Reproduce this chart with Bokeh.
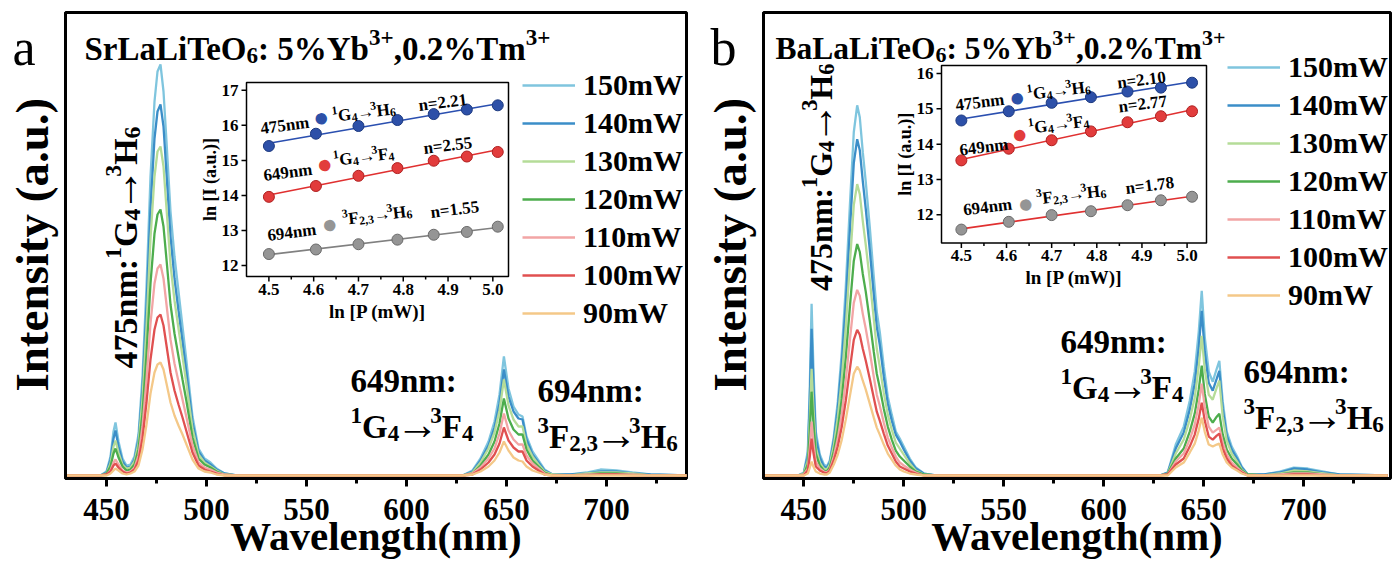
import numpy as np
from math import pi, cos, sin
from bokeh.plotting import figure
from bokeh.models import (Range1d, Label, Legend, LegendItem, FixedTicker,
                          SingleIntervalTicker)
from bokeh.core.properties import value
from bokeh.layouts import row
from bokeh.embed import file_html
from bokeh.resources import INLINE

FONT = "Liberation Serif"

# ---------------- data ----------------
powers = ["150mW", "140mW", "130mW", "120mW", "110mW", "100mW", "90mW"]
colors = ["#7fc5de", "#3b8ec8", "#b5dc98", "#4dad4d", "#f2a5a5", "#e05050", "#f4c888"]

wl_a = [430, 447, 450, 452, 453.5, 454.5, 456, 458, 460, 462, 464, 466, 468, 470, 472, 474, 475.5, 477,
        478.5, 480, 482, 484, 486, 488, 490, 493, 496, 499, 502, 505, 509, 515, 600, 628, 633, 637, 641,
        644, 646.5, 648.7, 651, 653.5, 656, 658, 660, 663, 666, 669, 673, 682, 690, 697, 705, 713, 722, 742]
a_150 = [1, 1, 5, 20, 45, 54, 35, 18, 11, 12, 20, 42, 100, 190, 300, 375, 405, 412, 385, 335,
         265, 220, 185, 150, 115, 60, 28, 18, 14, 8, 3, 1, 1, 1, 6, 18, 35, 55, 82, 120,
         88, 70, 62, 60, 40, 25, 16, 7, 2, 2, 4, 7, 6, 4, 2, 1]
a_140 = [1, 1, 4, 17, 38, 46, 30, 15, 9, 10, 17, 37, 88, 170, 268, 338, 365, 372, 350, 303,
         240, 198, 166, 135, 103, 54, 25, 16, 12, 7, 3, 1, 1, 1, 5, 16, 31, 49, 73, 107,
         80, 65, 58, 57, 37, 22, 14, 6, 2, 2, 3, 5, 5, 3, 2, 1]
a_130 = [1, 1, 3, 13, 30, 36, 24, 12, 8, 9, 15, 33, 78, 150, 238, 300, 325, 330, 310, 268,
         212, 176, 148, 120, 92, 48, 22, 14, 10, 6, 2, 1, 1, 1, 4, 14, 28, 44, 66, 97,
         71, 57, 50, 50, 32, 20, 12, 5, 2, 1, 3, 4, 4, 3, 1, 1]
a_120 = [1, 1, 3, 10, 23, 28, 19, 10, 6, 7, 12, 27, 63, 122, 193, 243, 262, 267, 250, 217,
         172, 143, 120, 97, 75, 39, 18, 12, 9, 5, 2, 1, 1, 1, 3, 11, 22, 35, 53, 78,
         58, 47, 42, 42, 27, 16, 10, 4, 1, 1, 2, 3, 3, 2, 1, 1]
a_110 = [1, 1, 2, 6, 14, 17, 12, 6, 4, 5, 9, 21, 50, 97, 153, 193, 208, 212, 198, 172,
         137, 113, 95, 77, 59, 31, 14, 9, 7, 4, 2, 1, 1, 1, 3, 9, 18, 28, 43, 63,
         46, 37, 32, 32, 21, 13, 8, 3, 1, 1, 2, 2, 2, 2, 1, 1]
a_100 = [1, 1, 2, 5, 11, 13, 9, 5, 3, 4, 7, 16, 38, 74, 117, 147, 159, 162, 151, 131,
         104, 86, 72, 59, 45, 24, 11, 7, 5, 3, 1, 1, 1, 1, 2, 7, 14, 22, 33, 49,
         36, 29, 25, 25, 16, 10, 6, 2, 1, 1, 1, 2, 2, 1, 1, 1]
a_90 = [1, 1, 1, 3, 6, 8, 6, 3, 2, 3, 5, 11, 27, 52, 83, 104, 112, 114, 107, 93,
        74, 61, 51, 42, 32, 17, 8, 5, 4, 2, 1, 1, 1, 1, 2, 5, 10, 16, 24, 35,
        26, 19, 16, 15, 10, 6, 4, 2, 1, 1, 1, 1, 1, 1, 1, 1]

wl_b = [430, 447, 450, 452, 453, 453.9, 454.8, 456, 458, 460, 461.5, 463, 465, 467, 469, 471, 473, 475,
        476.7, 478, 479.5, 481, 483, 485, 486.5, 488, 490, 492, 494, 496, 498, 500, 503, 506, 510, 516,
        600, 628, 632, 636, 640, 643, 645.5, 647.5, 649, 650.5, 652.5, 654.5, 656.5, 657.8, 659.5,
        661.5, 664, 666.7, 669, 672, 680, 688, 695, 702, 710, 718, 742]
b_150 = [1, 1, 4, 25, 90, 173, 110, 45, 22, 12, 10, 16, 40, 75, 125, 190, 270, 345, 372, 360,
         325, 295, 250, 200, 165, 145, 110, 80, 62, 45, 38, 30, 18, 9, 3, 1, 1, 1, 4, 32,
         50, 76, 105, 145, 186, 140, 105, 95, 108, 116, 75, 45, 30, 20, 10, 2, 2, 5, 9, 8, 5, 2, 1]
b_140 = [1, 1, 3, 21, 77, 148, 94, 39, 19, 10, 9, 14, 36, 68, 114, 173, 245, 314, 338, 327,
         296, 268, 227, 182, 150, 132, 100, 73, 56, 42, 35, 27, 16, 8, 3, 1, 1, 1, 4, 28,
         44, 67, 93, 129, 166, 125, 94, 86, 98, 106, 68, 41, 27, 18, 9, 2, 2, 4, 8, 7, 4, 2, 1]
b_130 = [1, 1, 3, 16, 57, 108, 69, 29, 14, 8, 7, 12, 31, 59, 98, 150, 212, 272, 293, 283,
         256, 232, 197, 158, 128, 110, 84, 62, 47, 34, 28, 22, 13, 6, 2, 1, 1, 1, 3, 23,
         37, 57, 79, 110, 141, 107, 82, 77, 89, 96, 60, 36, 23, 15, 7, 2, 1, 3, 6, 5, 3, 1, 1]
b_120 = [1, 1, 2, 12, 45, 85, 54, 23, 11, 6, 5, 9, 25, 47, 78, 119, 169, 216, 233, 225,
         203, 185, 156, 125, 103, 89, 68, 50, 37, 26, 20, 16, 10, 5, 2, 1, 1, 1, 3, 18,
         28, 45, 63, 87, 111, 83, 60, 54, 60, 63, 42, 27, 18, 12, 6, 2, 1, 2, 4, 4, 2, 1, 1]
b_110 = [1, 1, 2, 8, 29, 55, 35, 15, 8, 5, 4, 7, 20, 38, 63, 96, 136, 174, 187, 181,
         163, 148, 125, 100, 82, 71, 54, 39, 29, 20, 14, 11, 7, 4, 1, 1, 1, 1, 2, 15,
         23, 37, 52, 72, 93, 70, 50, 44, 47, 49, 34, 22, 14, 9, 5, 1, 1, 2, 3, 3, 2, 1, 1]
b_100 = [1, 1, 1, 6, 20, 38, 24, 10, 6, 4, 3, 6, 16, 30, 50, 76, 107, 137, 147, 142,
         128, 116, 98, 79, 65, 56, 43, 31, 23, 15, 10, 8, 5, 3, 1, 1, 1, 1, 2, 12,
         18, 30, 42, 58, 74, 56, 40, 37, 41, 43, 28, 18, 11, 7, 4, 1, 1, 1, 2, 2, 1, 1, 1]
b_90 = [1, 1, 1, 3, 9, 15, 10, 5, 3, 2, 2, 4, 12, 22, 37, 57, 80, 103, 110, 106,
        96, 87, 73, 59, 49, 42, 32, 23, 17, 11, 7, 5, 3, 2, 1, 1, 1, 1, 1, 9,
        14, 24, 33, 46, 59, 45, 32, 30, 32, 33, 22, 14, 9, 6, 3, 1, 1, 1, 1, 1, 1, 1, 1]

# inset data: ln P (mW) and ln I (a.u.)
lnP = [4.500, 4.605, 4.700, 4.787, 4.868, 4.942, 5.011]
a_475 = [15.41, 15.76, 15.98, 16.15, 16.32, 16.45, 16.57]
a_649 = [13.96, 14.27, 14.56, 14.78, 14.99, 15.11, 15.24]
a_694 = [12.33, 12.46, 12.61, 12.74, 12.88, 12.96, 13.11]
b_475 = [14.67, 14.93, 15.17, 15.33, 15.49, 15.60, 15.74]
b_649 = [13.54, 13.87, 14.11, 14.36, 14.62, 14.79, 14.93]
b_694 = [11.58, 11.80, 11.99, 12.10, 12.27, 12.41, 12.51]
slopes_a = ["n=2.21", "n=2.55", "n=1.55"]
slopes_b = ["n=2.10", "n=2.77", "n=1.78"]
inset_xticks = [4.5, 4.6, 4.7, 4.8, 4.9, 5.0]
inset_xlabels = ["4.5", "4.6", "4.7", "4.8", "4.9", "5.0"]
inset_a_yticks = [12, 13, 14, 15, 16, 17]
inset_b_yticks = [12, 13, 14, 15, 16]

# ---------------- text helpers ----------------
TW = {' ': 250, '!': 333, '%': 1000, '(': 333, ')': 333, '+': 570, ',': 250, '-': 333, '.': 250,
      ':': 333, '=': 570, '[': 333, ']': 333, '\u2192': 800, '\u25cf': 600}
for d in "0123456789":
    TW[d] = 500
TW.update({'A': 722, 'B': 667, 'C': 722, 'D': 722, 'E': 667, 'F': 611, 'G': 778, 'H': 778, 'I': 389,
           'L': 640, 'M': 944, 'O': 740, 'P': 611, 'S': 556, 'T': 667, 'W': 1000, 'Y': 722,
           'a': 500, 'b': 556, 'c': 444, 'd': 556, 'e': 444, 'g': 500, 'h': 556, 'i': 278, 'l': 278,
           'm': 833, 'n': 556, 'o': 500, 'r': 444, 's': 389, 't': 333, 'u': 556, 'v': 500, 'y': 500})


def tw(s, size):
    return sum(TW.get(c, 550) for c in s) * size / 1000.0


class Panel:
    """Positions are given in panel pixels (0 = left edge of the panel incl. label strip)."""

    def __init__(self, ox, Wf, H, fr, ft, fb, xr, yr):
        self.fl = ox + 3
        self.fr_px = ox + Wf - fr
        self.ft = ft
        self.fb_px = H - fb
        self.xr, self.yr = xr, yr
        self.p = figure(width=Wf, height=H, x_range=Range1d(*xr), y_range=Range1d(*yr),
                        output_backend="svg", toolbar_location=None, title=None,
                        min_border_left=3, min_border_right=fr, min_border_top=ft,
                        min_border_bottom=fb)

    def X(self, px):
        return self.xr[0] + (px - self.fl) * (self.xr[1] - self.xr[0]) / (self.fr_px - self.fl)

    def Y(self, py):
        return self.yr[0] + (self.fb_px - py) * (self.yr[1] - self.yr[0]) / (self.fb_px - self.ft)

    def label(self, px, py, text, size, angle=0.0, color="black", bold=True, align="left",
              baseline="alphabetic", font=FONT):
        self.p.add_layout(Label(x=self.X(px), y=self.Y(py), text=text, angle=angle,
                                text_font=font, text_font_size=f"{size:.1f}px",
                                text_font_style="bold" if bold else "normal",
                                text_color=color, text_align=align, text_baseline=baseline))

    def rich(self, px, py, segs, size, angle=0.0, color="black"):
        ca, sa = cos(angle), sin(angle)
        cx, cy = px, py
        for text, mode in segs:
            pre = 0.0
            if mode == "^":
                fs, r = size * 0.7, size * 0.34
            elif mode == "_":
                fs, r = size * 0.7, -size * 0.2
            elif mode == "A":
                fs, r, pre = size * 1.3, size * 0.06, -size * 0.1
            else:
                fs, r = size, 0.0
            cx += pre * ca
            cy -= pre * sa
            qx = cx - r * sa
            qy = cy - r * ca
            self.label(qx, qy, text, fs, angle=angle, color=color)
            w = tw(text, fs)
            cx += w * ca
            cy -= w * sa


def side_strip(width, letter, letter_pos, ylab_pos):
    s = figure(width=width, height=562, x_range=Range1d(0, width), y_range=Range1d(562, 0),
               output_backend="svg", toolbar_location=None, title=None,
               x_axis_location=None, y_axis_location=None,
               min_border_left=0, min_border_right=0, min_border_top=0, min_border_bottom=0)
    s.outline_line_color = None
    s.xgrid.visible = False
    s.ygrid.visible = False
    s.add_layout(Label(x=letter_pos[0], y=letter_pos[1], text=letter, text_font=FONT,
                       text_font_size="52px", text_color="black", text_align="left",
                       text_baseline="alphabetic"))
    s.add_layout(Label(x=ylab_pos[0], y=ylab_pos[1], text="Intensity (a.u.)", angle=pi / 2,
                       text_font=FONT, text_font_style="bold", text_font_size="47px",
                       text_color="black", text_align="center", text_baseline="middle"))
    return s


def build(ox, Wf, fr, ft, fb, xr, yr, wl, curves, ins, txt):
    P = Panel(ox, Wf, 562, fr, ft, fb, xr, yr)
    p = P.p
    p.xgrid.visible = False
    p.ygrid.visible = False
    p.background_fill_color = "white"
    p.border_fill_color = "white"
    p.outline_line_color = "black"
    p.outline_line_width = 3

    xa = p.xaxis[0]
    xa.ticker = SingleIntervalTicker(interval=50, num_minor_ticks=2)
    xa.axis_line_width = 3
    xa.major_tick_line_width = 3
    xa.minor_tick_line_width = 3
    xa.major_tick_in = 0
    xa.major_tick_out = 8
    xa.minor_tick_in = 0
    xa.minor_tick_out = 5
    xa.major_label_text_font = FONT
    xa.major_label_text_font_style = "bold"
    xa.major_label_text_font_size = "31px"
    xa.major_label_text_color = "black"
    xa.major_label_standoff = 12
    xa.axis_label = "Wavelength(nm)"
    xa.axis_label_text_font = FONT
    xa.axis_label_text_font_style = "bold"
    xa.axis_label_text_font_size = "41px"
    xa.axis_label_text_color = "black"
    xa.axis_label_standoff = -10

    ya = p.yaxis[0]
    ya.ticker = FixedTicker(ticks=[])
    ya.axis_line_width = 3
    ya.major_tick_out = 0
    ya.major_tick_in = 0
    ya.minor_tick_out = 0
    ya.minor_tick_in = 0
    ya.major_label_standoff = 0
    ya.axis_label = None

    # spectra
    rends = {}
    for name, col, vals in zip(powers, colors, curves):
        rends[name] = p.line(wl, vals, line_color=col, line_width=2.3)
    items = [LegendItem(label=name, renderers=[rends[name]]) for name in powers]
    leg = Legend(items=items, location=txt["legend_loc"], border_line_color=None,
                 background_fill_alpha=0, padding=0, margin=0, spacing=4,
                 glyph_width=53, glyph_height=30, label_height=30, label_standoff=8,
                 label_text_font=FONT, label_text_font_style="bold",
                 label_text_font_size="30px", label_text_color="black")
    p.add_layout(leg)

    # inset via extra ranges
    L, R, T, B = ins["box"]
    ix0, ix1 = ins["xr"]
    iy0, iy1 = ins["yr"]
    sxp = (ix1 - ix0) / (R - L)
    syp = (iy1 - iy0) / (B - T)
    p.extra_x_ranges = {"ix": Range1d(ix0 - (L - P.fl) * sxp, ix1 + (P.fr_px - R) * sxp)}
    p.extra_y_ranges = {"iy": Range1d(iy0 - (P.fb_px - B) * syp, iy1 + (T - P.ft) * syp)}
    kw = dict(x_range_name="ix", y_range_name="iy")
    p.quad(left=[ix0], right=[ix1], bottom=[iy0], top=[iy1], fill_color="white",
           line_color="black", line_width=1.5, **kw)
    xt = inset_xticks
    mt = [(a + b) / 2 for a, b in zip(xt[:-1], xt[1:])]
    p.segment(x0=xt, y0=[iy0] * len(xt), x1=xt, y1=[iy0 - 5 * syp] * len(xt),
              line_color="black", line_width=1.5, **kw)
    p.segment(x0=mt, y0=[iy0] * len(mt), x1=mt, y1=[iy0 - 3 * syp] * len(mt),
              line_color="black", line_width=1.5, **kw)
    yt = ins["yticks"]
    p.segment(x0=[ix0] * len(yt), y0=yt, x1=[ix0 - 5 * sxp] * len(yt), y1=yt,
              line_color="black", line_width=1.5, **kw)
    p.text(x=xt, y=[iy0 - 7 * syp] * len(xt), text=inset_xlabels, text_align="center",
           text_baseline="top", text_font=value(FONT), text_font_style="bold",
           text_font_size="17px", text_color="black", **kw)
    p.text(x=[ix0 - 8 * sxp] * len(yt), y=yt, text=[str(v) for v in yt], text_align="right",
           text_baseline="middle", text_font=value(FONT), text_font_style="bold",
           text_font_size="17px", text_color="black", **kw)
    P.label((L + R) / 2, B + 35, "ln [P (mW)]", 19, align="center")
    P.label(L - 37, (T + B) / 2, "ln [I (a.u.)]", 18, angle=pi / 2, align="center")
    for vals, fc, lc, fitc in ins["series"]:
        k, b0 = np.polyfit(lnP, vals, 1)
        xs = [lnP[0], lnP[-1]]
        p.line(xs, [k * v + b0 for v in xs], line_color=fitc, line_width=1.6, **kw)
        p.scatter(lnP, vals, size=11, fill_color=fc, line_color=lc, line_width=1, **kw)
    ang = 0.125
    for (wl_txt, pos_w, dot_col, pos_d, segs, pos_r, ntxt, pos_n) in ins["notes"]:
        P.label(pos_w[0], pos_w[1], wl_txt, 17, angle=ang)
        P.label(pos_d[0], pos_d[1], "\u25cf", 15, angle=ang, color=dot_col, align="center",
                baseline="middle", bold=False, font="DejaVu Sans")
        P.rich(pos_r[0], pos_r[1], segs, 17, angle=ang)
        P.label(pos_n[0], pos_n[1], ntxt, 17, angle=ang)

    P.rich(txt["title_pos"][0], txt["title_pos"][1], txt["title"], txt["title_size"])
    P.rich(txt["rot_pos"][0], txt["rot_pos"][1],
           [("475nm:", "n"), ("1", "^"), ("G", "n"), ("4", "_"), ("\u2192", "A"),
            ("3", "^"), ("H", "n"), ("6", "_")], txt["rot_size"], angle=pi / 2)
    P.label(txt["l649"][0], txt["l649"][1], "649nm:", 33)
    P.rich(txt["l649b"][0], txt["l649b"][1],
           [("1", "^"), ("G", "n"), ("4", "_"), ("\u2192", "A"), ("3", "^"), ("F", "n"), ("4", "_")], 33)
    P.label(txt["l694"][0], txt["l694"][1], "694nm:", 33)
    P.rich(txt["l694b"][0], txt["l694b"][1],
           [("3", "^"), ("F", "n"), ("2,3", "_"), ("\u2192", "A"), ("3", "^"), ("H", "n"), ("6", "_")], 33)
    return p


seg_475 = [("1", "^"), ("G", "n"), ("4", "_"), ("\u2192", "n"), ("3", "^"), ("H", "n"), ("6", "_")]
seg_649 = [("1", "^"), ("G", "n"), ("4", "_"), ("\u2192", "n"), ("3", "^"), ("F", "n"), ("4", "_")]
seg_694 = [("3", "^"), ("F", "n"), ("2,3", "_"), ("\u2192", "n"), ("3", "^"), ("H", "n"), ("6", "_")]

BLUE, BLUE_D = "#2d50a8", "#1d3a80"
RED, RED_D = "#e23c3c", "#b02020"
GREY, GREY_D = "#959595", "#6a6a6a"

ins_a = dict(box=(246, 508, 82, 276), xr=(4.45, 5.035), yr=(11.69, 17.22), yticks=inset_a_yticks,
             series=[(a_475, BLUE, BLUE_D, "#2a4fb0"), (a_649, RED, RED_D, "#e03030"),
                     (a_694, GREY, GREY_D, "#808080")],
             notes=[("475nm", (260, 128), BLUE, (320.7, 117.3), seg_475, (331.7, 116), slopes_a[0], (418, 105)),
                    ("649nm", (263, 175), RED, (324, 164), seg_649, (333, 160), slopes_a[1], (423, 148)),
                    ("694nm", (267, 235), GREY, (329, 224), seg_694, (342, 219), slopes_a[2], (430, 212))])
txt_a = dict(title=[("SrLaLiTeO", "n"), ("6", "_"), (": 5%Yb", "n"), ("3+", "^"), (",0.2%Tm", "n"), ("3+", "^")],
             title_pos=(84, 48), title_size=33, rot_pos=(125, 368), rot_size=34,
             l649=(350, 380), l649b=(350, 426), l694=(537, 390), l694b=(537, 436), legend_loc=(457, 148))

ins_b = dict(box=(244, 509, 65, 243), xr=(4.456, 5.043), yr=(11.2, 16.23), yticks=inset_b_yticks,
             series=[(b_475, BLUE, BLUE_D, "#2a4fb0"), (b_649, RED, RED_D, "#e03030"),
                     (b_694, GREY, GREY_D, "#e03030")],
             notes=[("475nm", (258, 105), BLUE, (319.7, 97.3), seg_475, (329.7, 94.3), slopes_b[0], (419.7, 82.7)),
                    ("649nm", (262, 150), RED, (322, 134.3), seg_649, (331, 128), slopes_b[1], (421, 106.7)),
                    ("694nm", (265.7, 210), GREY, (328, 204), seg_694, (339, 199), slopes_b[2], (428, 188.3))])
txt_b = dict(title=[("BaLaLiTeO", "n"), ("6", "_"), (": 5%Yb", "n"), ("3+", "^"), (",0.2%Tm", "n"), ("3+", "^")],
             title_pos=(78, 48), title_size=31.5, rot_pos=(123, 291), rot_size=32,
             l649=(363, 342), l649b=(363, 388), l694=(546, 372), l694b=(546, 418), legend_loc=(464, 166))

strip_a = side_strip(62, "a", (12, 42), (31, 280))
pa = build(62, 635, 11, 12, 84, (429.5, 740.0), (-2, 464), wl_a,
           [a_150, a_140, a_130, a_120, a_110, a_100, a_90], ins_a, txt_a)
strip_b = side_strip(63, "b", (13, 42), (32, 280))
pb = build(63, 637, 7, 12, 83, (429.85, 743.4), (-2, 465), wl_b,
           [b_150, b_140, b_130, b_120, b_110, b_100, b_90], ins_b, txt_b)

layout = row(strip_a, pa, strip_b, pb)
open("out.html", "w").write(file_html(layout, INLINE))
